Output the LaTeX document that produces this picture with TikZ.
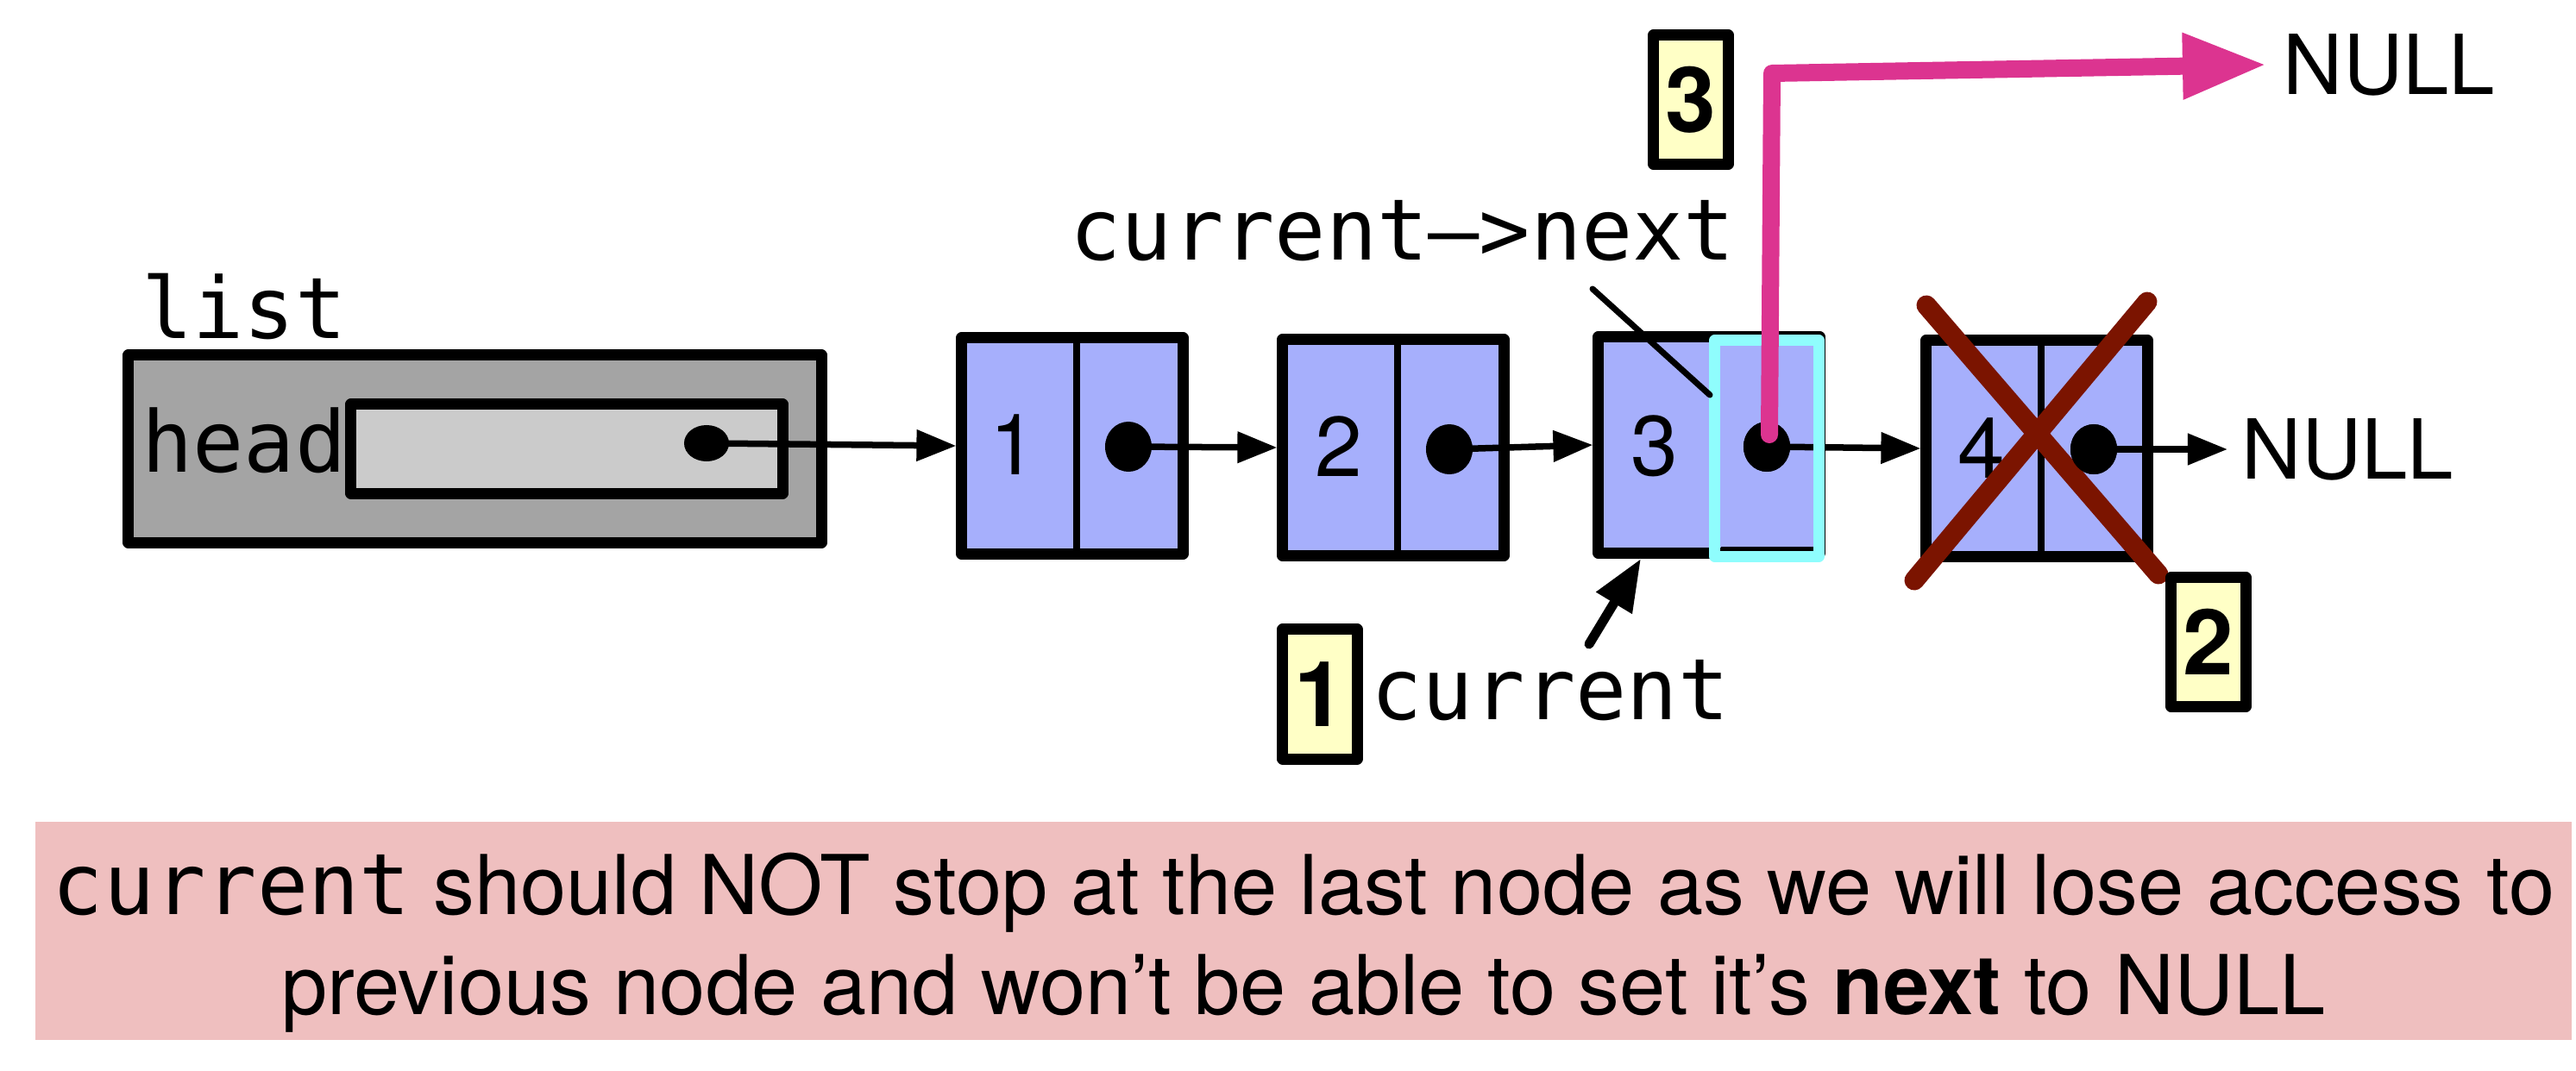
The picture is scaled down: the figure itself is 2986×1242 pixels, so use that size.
\documentclass[tikz,border=0pt]{standalone}
\usepackage{fontspec}
\setmainfont{TeX Gyre Heros}
\newfontfamily\mono{DejaVu Sans Mono}
\usetikzlibrary{arrows.meta,shapes.geometric}
\definecolor{nodefill}{HTML}{A6AFFC}
\definecolor{outgray}{HTML}{A4A4A4}
\definecolor{ingray}{HTML}{CBCBCB}
\definecolor{cyanbox}{HTML}{8FFDFD}
\definecolor{pinkline}{HTML}{DC3490}
\definecolor{xred}{HTML}{7B1400}
\definecolor{badgeyellow}{HTML}{FFFFC6}
\definecolor{notepink}{HTML}{EFBFBF}
\begin{document}
\begin{tikzpicture}[x=0.01cm,y=-0.01cm,
  lnode/.style={draw=black, line width=0.13cm, line join=round, fill=nodefill,
    minimum width=2.56cm, minimum height=2.51cm, inner sep=0pt},
  divider/.style={line width=0.08cm},
  dot/.style={ellipse, fill=black, minimum width=0.54cm, minimum height=0.58cm, inner sep=0pt},
  ptr/.style={line width=0.075cm, -{Triangle[length=0.46cm,width=0.35cm]}},
  monolabel/.style={inner sep=0pt, anchor=base, font=\fontsize{28pt}{33pt}\mono},
  digit/.style={inner sep=0pt, font=\fontsize{28pt}{32pt}\selectfont},
  nulltext/.style={anchor=west, inner ysep=0pt, font=\fontsize{27.3pt}{32pt}\selectfont},
  badge/.style={draw=black, line width=0.13cm, line join=round, fill=badgeyellow,
    minimum width=0.86cm, minimum height=1.5cm, inner sep=0pt,
    font=\fontsize{30pt}{34pt}\bfseries},
  pinkarr/.style={draw=pinkline, line width=0.2cm, line cap=round, line join=round,
    -{Triangle[length=0.97cm,width=0.72cm]}},
  xline/.style={draw=xred, line width=0.23cm, line cap=round},
  curarr/.style={line width=0.11cm, line cap=round, -{Triangle[length=0.6cm,width=0.46cm]}},
  leader/.style={line width=0.07cm, line cap=round},
  notetext/.style={inner sep=0pt, anchor=base, font=\fontsize{27.2pt}{32pt}\selectfont}
]
\useasboundingbox (0,0) rectangle (2986,1242);

% bottom note
\node[fill=notepink, minimum width=29.38cm, minimum height=2.53cm, inner sep=0pt] (note) at (1511,1079.5) {};
\node[notetext] (t1) at (1511,1060) {{\fontsize{28pt}{32pt}\mono current} should NOT stop at the last node as we will lose access to};
\node[notetext] (t2) at (1511,1176) {previous node and won’t be able to set it’s \textbf{next} to NULL};

% list struct
\node[draw=black, line width=0.13cm, line join=round, fill=outgray,
  minimum width=8.03cm, minimum height=2.17cm, inner sep=0pt] (list) at (550.5,520.5) {};
\node[draw=black, line width=0.13cm, line join=round, fill=ingray,
  minimum width=5.0cm, minimum height=1.03cm, inner sep=0pt] (headbox) at (657,520.5) {};
\node[monolabel] (listlbl) at (283,392) {list};
\node[monolabel] (headlbl) at (283,547) {head};

% list nodes
\node[lnode] (n1) at (1243,517) {};
\node[lnode] (n2) at (1615,519) {};
\node[lnode] (n3) at (1981,516) {};
\node[lnode] (n4) at (2361,520) {};
\foreach \n in {n1,n2,n3,n4}
  \draw[divider] ([xshift=0.05cm]\n.north) -- ([xshift=0.05cm]\n.south);

\node[digit] (v1) at (1175,516) {1};
\node[digit] (v2) at (1552,518) {2};
\node[digit] (v3) at (1918,517) {3};
\node[digit] (v4) at (2297,520) {4};

% pointer dots
\node[ellipse, fill=black, minimum width=0.52cm, minimum height=0.42cm, inner sep=0pt] (d0) at (819,514) {};
\node[dot] (d1) at (1308,518) {};
\node[dot] (d2) at (1680,521) {};
\node[dot] (d3) at (2048,518) {};
\node[dot] (d4) at (2427,521) {};

% NULL labels
\node[nulltext, inner xsep=0.19cm] (null1) at (2627,75) {NULL};
\node[nulltext, inner xsep=0.16cm] (null2) at (2582,521) {NULL};

% arrows
\draw[ptr] (d0.center) -- (n1.west);
\draw[ptr] (d1.center) -- (n2.west);
\draw[ptr] (d2.center) -- (n3.west);
\draw[ptr] (d3.center) -- (n4.west);
\draw[ptr] (d4.center) -- (null2.west);

% cyan highlight of current->next
\node[draw=cyanbox, line width=0.13cm, line join=round, minimum width=1.2cm,
  minimum height=2.51cm, inner sep=0pt] (cyan) at (2048,520) {};
\draw[line width=0.03cm] (1995,635.5) -- (2102,635.5);
\node[dot] at (2048,518) {};

% red cross over node 4
\draw[xline] (2233,354) -- (2502,666);
\draw[xline] (2489,350) -- (2219,673);
\node[dot] at (2427,521) {};

% pink new link
\coordinate (pk0) at (2051,504);
\coordinate (pk1) at (2054,85);
\draw[pinkarr] (pk0) -- (pk1) -- (null1.west);

% labels
\node[monolabel] (cnlbl) at (1626,301) {current–>next};
\coordinate (ld0) at (1846,335);
\coordinate (ld1) at (1982,458);
\draw[leader] (ld0) -- (ld1);

\node[monolabel] (curlbl) at (1797,834) {current};
\coordinate (c0) at (1842,747);
\coordinate (c1) at (1902,648);
\draw[curarr] (c0) -- (c1);

% step badges
\node[badge] (b1) at (1530,805) {1};
\node[badge] (b2) at (2560,744.5) {2};
\node[badge] (b3) at (1960,115.5) {3};
\end{tikzpicture}
\end{document}
